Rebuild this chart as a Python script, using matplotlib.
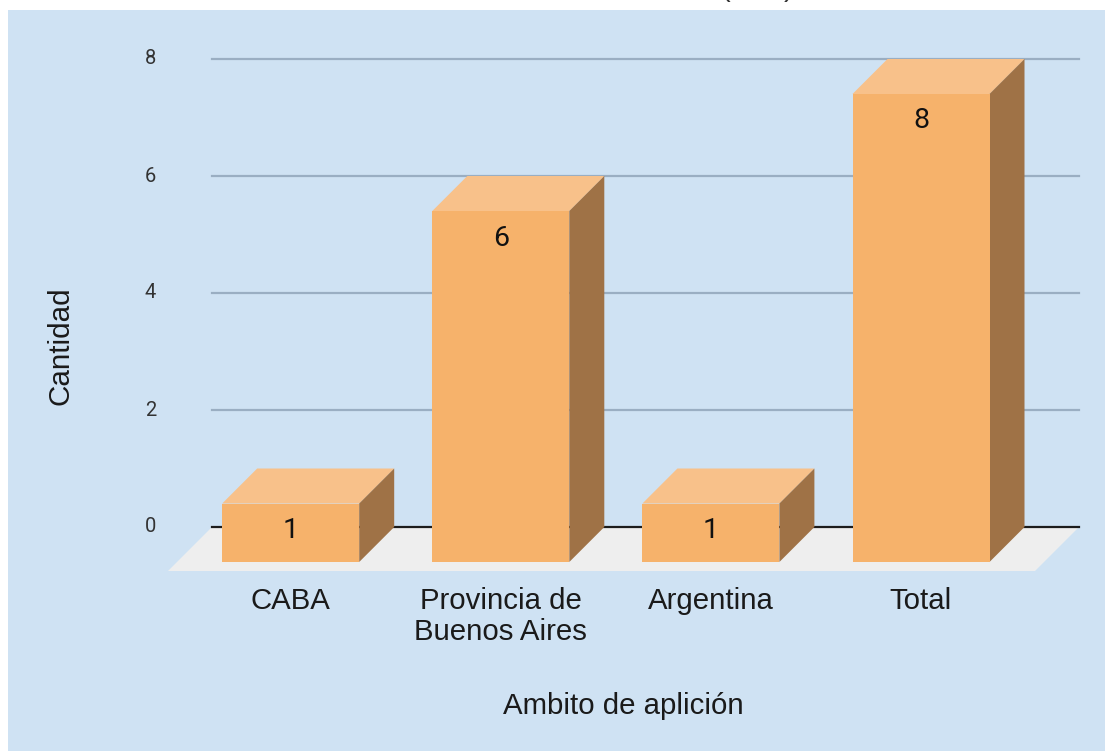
import matplotlib
matplotlib.use("Agg")
import matplotlib.pyplot as plt
from matplotlib.patches import Polygon, Rectangle
from matplotlib.transforms import ScaledTranslation

categorias = ["CABA", "Provincia de\nBuenos Aires", "Argentina", "Total"]
valores = [1, 6, 1, 8]
y_ticks = [0, 2, 4, 6, 8]

W, H = 1105, 751
fig = plt.figure(figsize=(W / 100, H / 100), dpi=100, facecolor="white")
# Fondo azul del grafico
fig.add_artist(Rectangle((8 / W, 0), (W - 8) / W, (H - 10) / H, transform=fig.transFigure,
                         facecolor="#CFE2F3", edgecolor="none", zorder=-1))

# Ejes: lineas de grilla de x=212 a x=1079 y de y=59 (8) a y=527 (0), en pixeles
left, right, top, bottom = 212, 1079, 59, 527
ax = fig.add_axes([left / W, 1 - bottom / H, (right - left) / W, (bottom - top) / H], zorder=2)
ax.patch.set_alpha(0)
for s in ax.spines.values():
    s.set_visible(False)

paso = 210.1  # px entre categorias
x0 = 290.7    # px del centro de la primera barra
ax.set_xlim((left - x0) / paso, (right - x0) / paso)
ax.set_ylim(0, 8)
px_y = (bottom - top) / 8

ancho = 137 / paso
prof_x = 35 / paso
prof_y = 35 / px_y

for t in y_ticks:
    if t == 0:
        ax.axhline(t, color="#1c1c1c", lw=1.6, zorder=2, clip_on=False)
    else:
        ax.axhline(t, color="#9AAEC2", lw=1.6, zorder=1, clip_on=False)

# Piso
xl, xr = ax.get_xlim()
piso_dx = 44 / paso
piso_dy = 44 / px_y
ax.add_patch(Polygon([(xl, 0), (xr, 0), (xr - piso_dx, -piso_dy), (xl - piso_dx, -piso_dy)],
                     closed=True, facecolor="#EEEEEE", edgecolor="none", zorder=1.5, clip_on=False))

# Barras 3D
for i, v in enumerate(valores):
    x1 = i - ancho / 2
    x2 = i + ancho / 2
    y_base = -prof_y
    y_top = v - prof_y
    ax.add_patch(Polygon([(x1, y_top), (x2, y_top), (x2 + prof_x, v), (x1 + prof_x, v)],
                         closed=True, facecolor="#F8C18A", edgecolor="none", zorder=3, clip_on=False))
    ax.add_patch(Polygon([(x2, y_base), (x2 + prof_x, 0), (x2 + prof_x, v), (x2, y_top)],
                         closed=True, facecolor="#9F7246", edgecolor="none", zorder=3, clip_on=False))
    ax.add_patch(Rectangle((x1, y_base), ancho, v, facecolor="#F6B26B", edgecolor="none",
                           zorder=4, clip_on=False))
    ax.annotate(str(v), (i, y_top), xytext=(0, -27), textcoords="offset pixels", ha="center",
                va="center", fontsize=20.5, family="Roboto", color="#111111", zorder=5,
                annotation_clip=False)
    ax.annotate(categorias[i], (i, 0), xytext=(0, -60), textcoords="offset pixels", ha="center",
                va="top", fontsize=21.2, family="Liberation Sans", color="#1a1a1a",
                linespacing=1.12, annotation_clip=False)

ax.set_xticks([])
ax.set_yticks(y_ticks)
ax.tick_params(axis="y", length=0, pad=56 * 0.72, labelsize=14.5, labelcolor="#333333")
subir = ScaledTranslation(0, 2 / 100, fig.dpi_scale_trans)
for lab in ax.get_yticklabels():
    lab.set_family("Roboto")
    lab.set_transform(lab.get_transform() + subir)

fig.text(60 / W, 1 - 345.5 / H, "Cantidad", rotation=90, ha="center", va="center",
         fontsize=21.3, family="Liberation Sans", color="#1a1a1a")
fig.text(623 / W, 1 - 706 / H, "Ambito de aplición", ha="center", va="center",
         fontsize=21.2, family="Liberation Sans", color="#1a1a1a")

# Restos del titulo recortado arriba
fig.text(725 / W, 1 + 12 / H, "(", ha="center", va="center", fontsize=21, family="Liberation Sans", color="#333333")
fig.text(789 / W, 1 + 12 / H, ")", ha="center", va="center", fontsize=21, family="Liberation Sans", color="#333333")

fig.savefig("out.png", dpi=100, facecolor="white")
